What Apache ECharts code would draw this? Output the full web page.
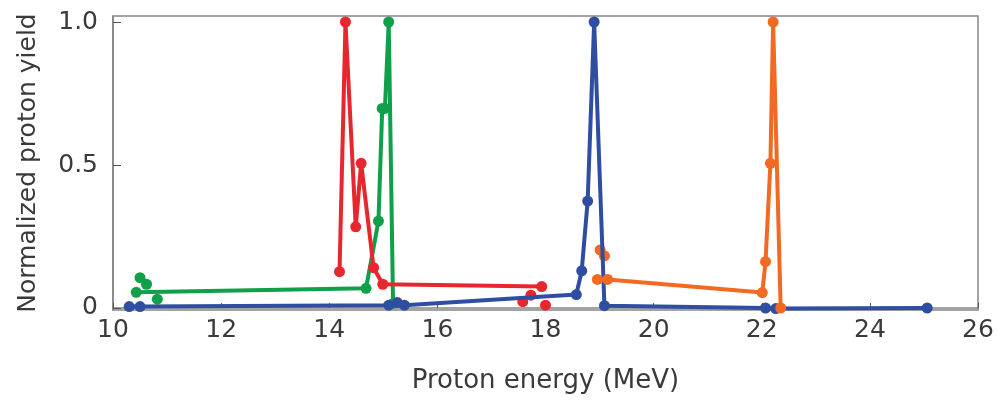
<!DOCTYPE html>
<html>
<head>
<meta charset="utf-8">
<script src="https://cdn.jsdelivr.net/npm/echarts@6/dist/echarts.min.js"></script>
<style>html,body{margin:0;padding:0;background:#fff}#c{width:998px;height:401px}</style>
</head>
<body>
<div id="c"></div>
<script>
var xTicks = [10, 12, 14, 16, 18, 20, 22, 24, 26];
var yTicks = [0, 0.5, 1.0];
var yTickLabels = ['0', '0.5', '1.0'];

var redX = [14.19, 14.30, 14.49, 14.59, 14.82, 14.99, 17.93];
var redY = [0.127, 1.0, 0.284, 0.506, 0.141, 0.083, 0.075];
var redDotX = [17.58, 17.73, 18.00];
var redDotY = [0.022, 0.045, 0.010];

var greenX = [10.43, 14.68, 14.91, 14.98, 15.03, 15.10, 15.18];
var greenY = [0.055, 0.069, 0.304, 0.698, 0.698, 1.0, 0.016];
var greenDotX = [10.50, 10.62, 10.82];
var greenDotY = [0.106, 0.083, 0.031];

var blueX = [10.30, 10.50, 15.10, 15.26, 15.39, 18.57, 18.67, 18.78, 18.90, 19.09, 22.07, 22.26, 25.06];
var blueY = [0.005, 0.005, 0.010, 0.019, 0.010, 0.047, 0.130, 0.374, 1.0, 0.008, 0.0, -0.002, 0.0];

var orangeX = [18.96, 19.15, 22.01, 22.07, 22.16, 22.21, 22.35];
var orangeY = [0.100, 0.100, 0.054, 0.162, 0.506, 1.0, 0.0];
var orangeDotX = [19.01, 19.09];
var orangeDotY = [0.203, 0.182];

function zip(a, b) { return a.map(function (v, i) { return [v, b[i]]; }); }

var C = { red: '#e8262e', green: '#10a04a', blue: '#2f4ea2', orange: '#f26a21' };
var font = 'DejaVu Sans';
var textColor = '#3a3a3a';

function lineS(name, xs, ys, color) {
  return { name: name, type: 'line', data: zip(xs, ys), symbol: 'circle', symbolSize: 11,
    itemStyle: { color: color, opacity: 1 }, lineStyle: { color: color, width: 4 }, animation: false };
}
function dotS(name, xs, ys, color) {
  return { name: name, type: 'scatter', data: zip(xs, ys), symbol: 'circle', symbolSize: 11,
    itemStyle: { color: color, opacity: 1 }, animation: false };
}

var chart = echarts.init(document.getElementById('c'), null, { renderer: 'canvas' });
chart.setOption({
  animation: false,
  grid: { left: 113, right: 20, top: 16, bottom: 91, show: true, borderColor: '#858585', borderWidth: 1.5, backgroundColor: 'transparent' },
  xAxis: {
    type: 'value', min: 10, max: 26, interval: 2,
    name: 'Proton energy (MeV)', nameLocation: 'middle', nameGap: 58,
    nameTextStyle: { fontFamily: font, fontSize: 26, color: textColor },
    axisLine: { show: true, lineStyle: { color: '#858585', width: 1.5 } },
    axisTick: { show: true, inside: true, length: 5, lineStyle: { color: '#555', width: 1 } },
    axisLabel: { fontFamily: font, fontSize: 25, color: textColor, margin: 8,
      formatter: function (v) { return xTicks.indexOf(v) >= 0 ? String(v) : ''; } },
    splitLine: { show: false }
  },
  yAxis: {
    type: 'value', min: -0.007, max: 1.021,
    name: 'Normalized proton yield', nameLocation: 'middle', nameGap: 72,
    nameTextStyle: { fontFamily: font, fontSize: 25, color: textColor },
    axisLine: { show: true, lineStyle: { color: '#858585', width: 1.5 } },
    axisTick: { show: true, inside: true, length: 8, customValues: yTicks, lineStyle: { color: '#555', width: 1 } },
    axisLabel: { fontFamily: font, fontSize: 25, color: textColor, margin: 15, customValues: yTicks,
      formatter: function (v) { var i = yTicks.indexOf(v); return i >= 0 ? yTickLabels[i] : ''; } },
    splitLine: { show: false }
  },
  series: [
    lineS('green', greenX, greenY, C.green),
    dotS('greenDots', greenDotX, greenDotY, C.green),
    lineS('red', redX, redY, C.red),
    dotS('redDots', redDotX, redDotY, C.red),
    lineS('blue', blueX, blueY, C.blue),
    lineS('orange', orangeX, orangeY, C.orange),
    dotS('orangeDots', orangeDotX, orangeDotY, C.orange)
  ]
});
</script>
</body>
</html>
